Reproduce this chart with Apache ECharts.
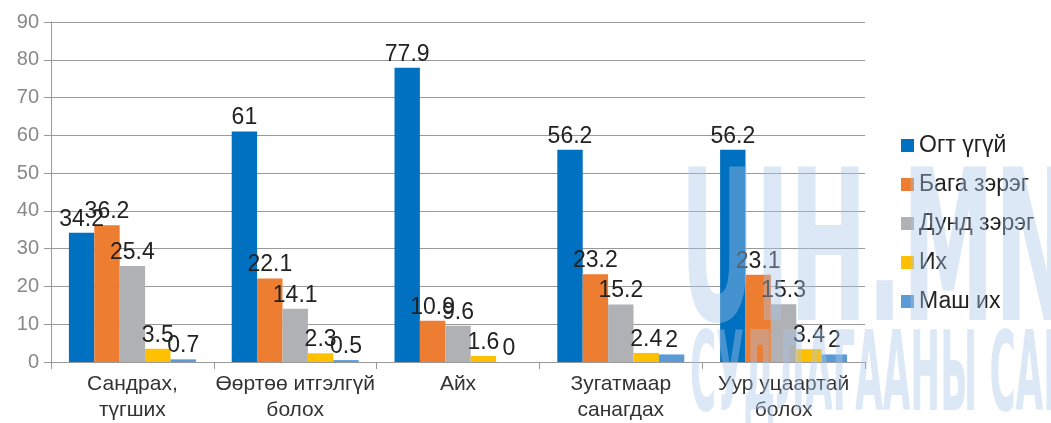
<!DOCTYPE html>
<html>
<head>
<meta charset="utf-8">
<script src="https://cdn.jsdelivr.net/npm/echarts@6/dist/echarts.min.js"></script>
<style>
  html, body { margin: 0; padding: 0; background: #fff; }
  #containerBar { width: 1051px; height: 423px; }
</style>
</head>
<body>
<div id="containerBar"></div>
<script>
var categories = [
	'Сандрах,\nтүгших',
	'Өөртөө итгэлгүй\nболох',
	'Айх',
	'Зугатмаар\nсанагдах',
	'Уур уцаартай\nболох'
];

var seriesNames = ['Огт үгүй', 'Бага зэрэг', 'Дунд зэрэг', 'Их', 'Маш их'];
var seriesColors = ['#0070c0', '#ed7d31', '#b0b1b4', '#ffc000', '#5b9bd5'];

var ogtUgui = [34.2, 61, 77.9, 56.2, 56.2];
var bagaZereg = [36.2, 22.1, 10.9, 23.2, 23.1];
var dundZereg = [25.4, 14.1, 9.6, 15.2, 15.3];
var ikh = [3.5, 2.3, 1.6, 2.4, 3.4];
var mashIkh = [0.7, 0.5, 0, 2, 2];

var seriesData = [ogtUgui, bagaZereg, dundZereg, ikh, mashIkh];

var domBar = document.getElementById('containerBar');
var chartBar = echarts.init(domBar);

var fontName = '"Liberation Sans", Arial, sans-serif';

var series = seriesData.map(function(vals, i) {
	return {
		type: 'bar',
		name: seriesNames[i],
		color: seriesColors[i],
		barGap: '0%',
		barCategoryGap: '22%',
		label: {
			show: true,
			position: 'top',
			distance: 2,
			fontSize: 23,
			fontFamily: fontName,
			color: '#222'
		},
		data: vals
	};
});

// faint watermark from the source picture
var wmFill = 'rgba(170, 198, 232, 0.4)';

var bar = {
	animation: false,
	textStyle: { fontFamily: fontName },
	grid: {
		left: 51,
		right: 186,
		top: 22,
		bottom: 60
	},
	legend: {
		orient: 'vertical',
		left: 896,
		top: 129,
		itemWidth: 13,
		itemHeight: 13,
		itemGap: 16,
		icon: 'rect',
		textStyle: {
			fontSize: 23,
			color: '#222',
			fontFamily: fontName
		},
		data: seriesNames
	},
	xAxis: {
		type: 'category',
		data: categories,
		axisLine: { lineStyle: { color: '#999' } },
		axisTick: { show: true, length: 7, lineStyle: { color: '#999' } },
		axisLabel: {
			fontSize: 21,
			color: '#333',
			lineHeight: 26,
			margin: 9,
			interval: 0
		}
	},
	yAxis: {
		type: 'value',
		min: 0,
		max: 90,
		interval: 10,
		axisLine: { show: true, lineStyle: { color: '#999' } },
		axisTick: { show: true, length: 7, lineStyle: { color: '#999' } },
		splitLine: { lineStyle: { color: '#999' } },
		axisLabel: {
			fontSize: 20,
			color: '#888',
			margin: 12
		}
	},
	graphic: [{
		type: 'text',
		left: 680,
		top: 160,
		scaleX: 0.49,
		silent: true,
		z: 100,
		style: {
			text: 'UIH.MN',
			font: 'bold 210px "DejaVu Sans Condensed", sans-serif',
			fill: wmFill
		}
	}, {
		type: 'text',
		left: 690,
		top: 326,
		scaleX: 0.36,
		silent: true,
		z: 100,
		style: {
			text: 'СУДЛАГААНЫ САН',
			font: 'bold 110px "DejaVu Sans Condensed", sans-serif',
			fill: wmFill
		}
	}],
	series: series
};

chartBar.setOption(bar);
</script>
</body>
</html>
